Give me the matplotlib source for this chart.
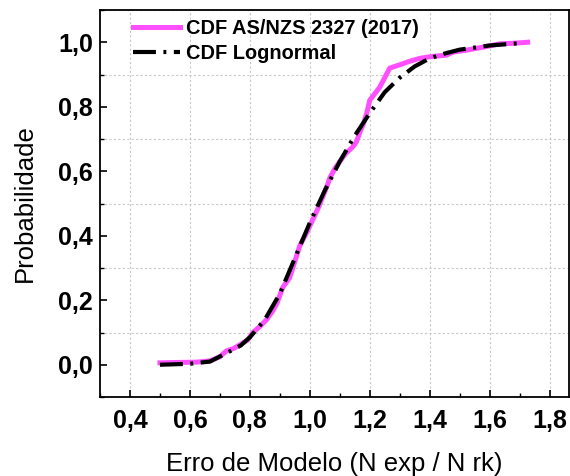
import numpy as np
import matplotlib
matplotlib.use("Agg")
import matplotlib.pyplot as plt
from matplotlib.ticker import MultipleLocator, FuncFormatter

plt.rcParams['font.family'] = ['Liberation Sans', 'DejaVu Sans']

# empirical CDF (AS/NZS 2327)
emp_x = [0.50, 0.55, 0.62, 0.667, 0.70, 0.722, 0.745, 0.767, 0.793, 0.81, 0.835, 0.856,
         0.875, 0.89, 0.91, 0.933, 0.95, 0.967, 0.99, 1.01, 1.03, 1.043, 1.06, 1.067,
         1.085, 1.10, 1.12, 1.143, 1.155, 1.167, 1.18, 1.19, 1.20, 1.233, 1.25, 1.267,
         1.30, 1.33, 1.367, 1.40, 1.456, 1.48, 1.52, 1.58, 1.633, 1.68, 1.727]
emp_y = [0.006, 0.007, 0.008, 0.012, 0.025, 0.043, 0.05, 0.062, 0.077, 0.10, 0.12, 0.14,
         0.165, 0.19, 0.24, 0.27, 0.32, 0.37, 0.41, 0.45, 0.49, 0.52, 0.56, 0.58,
         0.61, 0.63, 0.655, 0.675, 0.69, 0.72, 0.75, 0.78, 0.82, 0.86, 0.89, 0.92,
         0.93, 0.94, 0.95, 0.955, 0.96, 0.97, 0.975, 0.985, 0.995, 0.997, 1.0]

# lognormal fit CDF
logn_x = [0.50, 0.60, 0.667, 0.72, 0.77, 0.80, 0.85, 0.90, 0.95, 1.00, 1.05, 1.10,
          1.15, 1.20, 1.25, 1.30, 1.35, 1.40, 1.45, 1.50, 1.60, 1.70]
logn_y = [0.0, 0.003, 0.01, 0.035, 0.06, 0.085, 0.14, 0.22, 0.33, 0.44, 0.54, 0.63,
          0.71, 0.78, 0.845, 0.89, 0.925, 0.95, 0.965, 0.977, 0.99, 0.997]

fig = plt.figure(figsize=(5.7, 4.76), dpi=100)
ax = fig.add_axes([100/570, 79/476, 469/570, 387/476])

ax.plot(emp_x, emp_y, color='#ff50ff', lw=3.6, label='CDF AS/NZS 2327 (2017)', zorder=2)
ax.plot(logn_x, logn_y, color='black', lw=3, dashes=(5.5, 1.8, 0.7, 1.8),
        label='CDF Lognormal', zorder=3)

ax.set_xlim(0.3, 1.865)
ax.set_ylim(-0.1, 1.1)
ax.xaxis.set_major_locator(MultipleLocator(0.2))
ax.xaxis.set_minor_locator(MultipleLocator(0.1))
ax.yaxis.set_major_locator(MultipleLocator(0.2))
ax.yaxis.set_minor_locator(MultipleLocator(0.1))
fmt = FuncFormatter(lambda v, p: ('%.1f' % v).replace('.', ','))
ax.xaxis.set_major_formatter(fmt)
ax.yaxis.set_major_formatter(fmt)

ax.grid(True, axis='x', which='major', color='#c8c8c8', ls=(0, (2, 2)), lw=0.8)
ax.grid(True, axis='y', which='minor', color='#c8c8c8', ls=(0, (2, 2)), lw=0.8)

ax.tick_params(which='major', direction='in', length=5, width=1.2, labelsize=18)
ax.tick_params(axis='x', which='major', pad=9)
ax.tick_params(axis='y', which='major', pad=5)
ax.tick_params(which='minor', direction='in', length=3, width=1.0)
for lab in ax.get_xticklabels() + ax.get_yticklabels():
    lab.set_fontweight('bold')
for s in ax.spines.values():
    s.set_linewidth(1.3)

ax.set_xlabel('Erro de Modelo (N exp / N rk)', fontsize=18.5, labelpad=13)
ax.set_ylabel('Probabilidade', fontsize=18.5, labelpad=15)

ax.legend(loc='upper left', bbox_to_anchor=(0.07, 0.978), frameon=False,
          prop={'weight': 'bold', 'size': 14.4}, borderpad=0, borderaxespad=0,
          handlelength=2.35, labelspacing=0.3, handletextpad=0.3)

fig.savefig('out.png', dpi=100)
